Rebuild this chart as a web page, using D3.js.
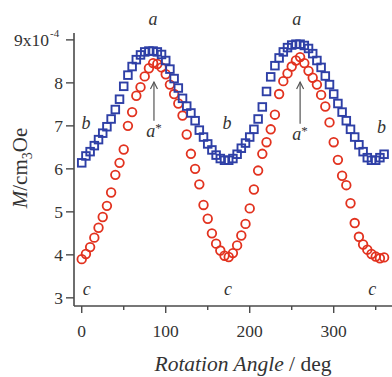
<!DOCTYPE html>
<html><head><meta charset="utf-8">
<script src="https://cdn.jsdelivr.net/npm/d3@7/dist/d3.min.js"></script>
<style>body{margin:0;background:#fff}svg{display:block}text{font-family:"Liberation Serif","DejaVu Serif",serif}</style>
</head><body><svg id="c" width="392" height="377"></svg>
<script>
const angles = d3.range(0, 361, 5);
const blueM = [6.14,6.30,6.40,6.54,6.68,6.83,6.98,7.16,7.38,7.62,7.92,8.18,8.38,8.54,8.65,8.72,8.74,8.74,8.72,8.66,8.52,8.32,8.10,7.88,7.64,7.46,7.30,7.12,6.90,6.74,6.58,6.44,6.32,6.24,6.20,6.20,6.24,6.34,6.48,6.60,6.74,6.92,7.16,7.44,7.80,8.14,8.40,8.58,8.72,8.82,8.88,8.90,8.90,8.87,8.80,8.68,8.52,8.36,8.16,7.96,7.74,7.52,7.32,7.12,6.92,6.74,6.56,6.40,6.26,6.20,6.20,6.26,6.34];
const redM = [3.90,4.02,4.18,4.40,4.63,4.88,5.14,5.45,5.86,6.14,6.45,7.00,7.32,7.70,7.90,8.15,8.34,8.46,8.44,8.36,8.20,7.96,7.74,7.52,7.24,6.80,6.35,6.00,5.64,5.16,4.84,4.50,4.26,4.10,3.98,3.95,4.04,4.22,4.45,4.72,5.08,5.52,5.96,6.35,6.62,6.92,7.26,7.74,8.04,8.22,8.38,8.52,8.60,8.46,8.28,8.12,7.96,7.72,7.45,7.08,6.62,6.21,5.84,5.62,5.20,4.74,4.42,4.24,4.12,4.02,3.96,3.92,3.94];
const xMajor = [0,100,200,300];
const xMinor = [50,150,250,350];
const yTicks = [3,4,5,6,7,8,9];
const labels = [
  {t:"a", x:85, y:9.47}, {t:"a", x:256, y:9.47},
  {t:"b", x:5, y:7.05}, {t:"b", x:173, y:7.05}, {t:"b", x:357, y:6.95},
  {t:"c", x:6, y:3.19}, {t:"c", x:174, y:3.19}, {t:"c", x:346, y:3.19}
];
const arrows = [{x:86, y0:7.12, y1:8.02}, {x:260, y0:7.05, y1:8.02}];

const svg = d3.select("#c");
const x = d3.scaleLinear().domain([-9.2, 369.4]).range([74, 392]);
const y = d3.scaleLinear().domain([2.81, 9.16]).range([306, 33]);
const axisCol = "#4a4a4a";

// axes
const gx = svg.append("g").attr("transform","translate(0,306)");
gx.append("line").attr("x1",74).attr("x2",392).attr("stroke",axisCol).attr("stroke-width",1.6);
gx.selectAll(".maj").data(xMajor).join("line").attr("x1",d=>x(d)).attr("x2",d=>x(d)).attr("y1",0).attr("y2",7).attr("stroke",axisCol).attr("stroke-width",1.4);
gx.selectAll(".min").data(xMinor).join("line").attr("x1",d=>x(d)).attr("x2",d=>x(d)).attr("y1",0).attr("y2",4).attr("stroke",axisCol).attr("stroke-width",1.4);
gx.selectAll("text").data(xMajor).join("text").attr("x",d=>x(d)).attr("y",31).attr("text-anchor","middle").attr("font-size",17.5).attr("fill","#333").text(d=>d);

const gy = svg.append("g");
gy.append("line").attr("x1",74).attr("x2",74).attr("y1",33).attr("y2",306).attr("stroke",axisCol).attr("stroke-width",1.6);
gy.selectAll("line.t").data(yTicks).join("line").attr("class","t").attr("x1",66).attr("x2",74).attr("y1",d=>y(d)).attr("y2",d=>y(d)).attr("stroke",axisCol).attr("stroke-width",1.4);
gy.selectAll("text").data(yTicks.filter(d=>d<9)).join("text").attr("x",63).attr("y",d=>y(d)+6).attr("text-anchor","end").attr("font-size",17.5).attr("fill","#333").text(d=>d);
gy.append("text").attr("x",49).attr("y",y(9)+6).attr("text-anchor","end").attr("font-size",17.5).attr("fill","#333").text("9x10");
gy.append("text").attr("x",50).attr("y",y(9)-3).attr("font-size",11).attr("fill","#333").text("-4");

// axis titles
const xt = svg.append("text").attr("x",243).attr("y",371).attr("text-anchor","middle").attr("font-size",21.5).attr("fill","#333");
xt.append("tspan").attr("font-style","italic").text("Rotation Angle");
xt.append("tspan").text(" / deg");
const yt = svg.append("text").attr("transform","translate(27,168) rotate(-90)").attr("text-anchor","middle").attr("font-size",21).attr("fill","#333");
yt.append("tspan").attr("font-style","italic").text("M");
yt.append("tspan").text("/cm");
yt.append("tspan").attr("font-size",14).attr("dy",5).text("3");
yt.append("tspan").attr("dy",-5).text("Oe");

// data
const pts = angles.map((a,i)=>({a, b:blueM[i], r:redM[i]}));
svg.append("g").selectAll("circle").data(pts).join("circle")
  .attr("cx",d=>x(d.a)).attr("cy",d=>y(d.r)).attr("r",4.3)
  .attr("fill","none").attr("stroke","#e2321f").attr("stroke-width",1.8);
svg.append("g").selectAll("rect").data(pts).join("rect")
  .attr("x",d=>x(d.a)-3.8).attr("y",d=>y(d.b)-3.8).attr("width",7.6).attr("height",7.6)
  .attr("fill","none").attr("stroke","#2e3fa6").attr("stroke-width",1.9);

// annotations
svg.append("g").selectAll("text").data(labels).join("text")
  .attr("x",d=>x(d.x)).attr("y",d=>y(d.y)+5).attr("text-anchor","middle")
  .attr("font-size",18).attr("font-style","italic").attr("fill","#333").text(d=>d.t);
const ga = svg.append("g");
arrows.forEach(a=>{
  const xx = x(a.x), yb = y(a.y0), yt2 = y(a.y1);
  ga.append("line").attr("x1",xx).attr("x2",xx).attr("y1",yb).attr("y2",yt2).attr("stroke","#555").attr("stroke-width",1.2);
  ga.append("path").attr("d",`M${xx-3.5},${yt2+7}L${xx},${yt2}L${xx+3.5},${yt2+7}`).attr("fill","none").attr("stroke","#555").attr("stroke-width",1.2);
  const t = ga.append("text").attr("x",xx).attr("y",yb+16).attr("text-anchor","middle").attr("font-size",18).attr("fill","#333");
  t.append("tspan").attr("font-style","italic").text("a");
  t.append("tspan").attr("font-size",13).attr("dy",-5).text("*");
});
</script></body></html>
